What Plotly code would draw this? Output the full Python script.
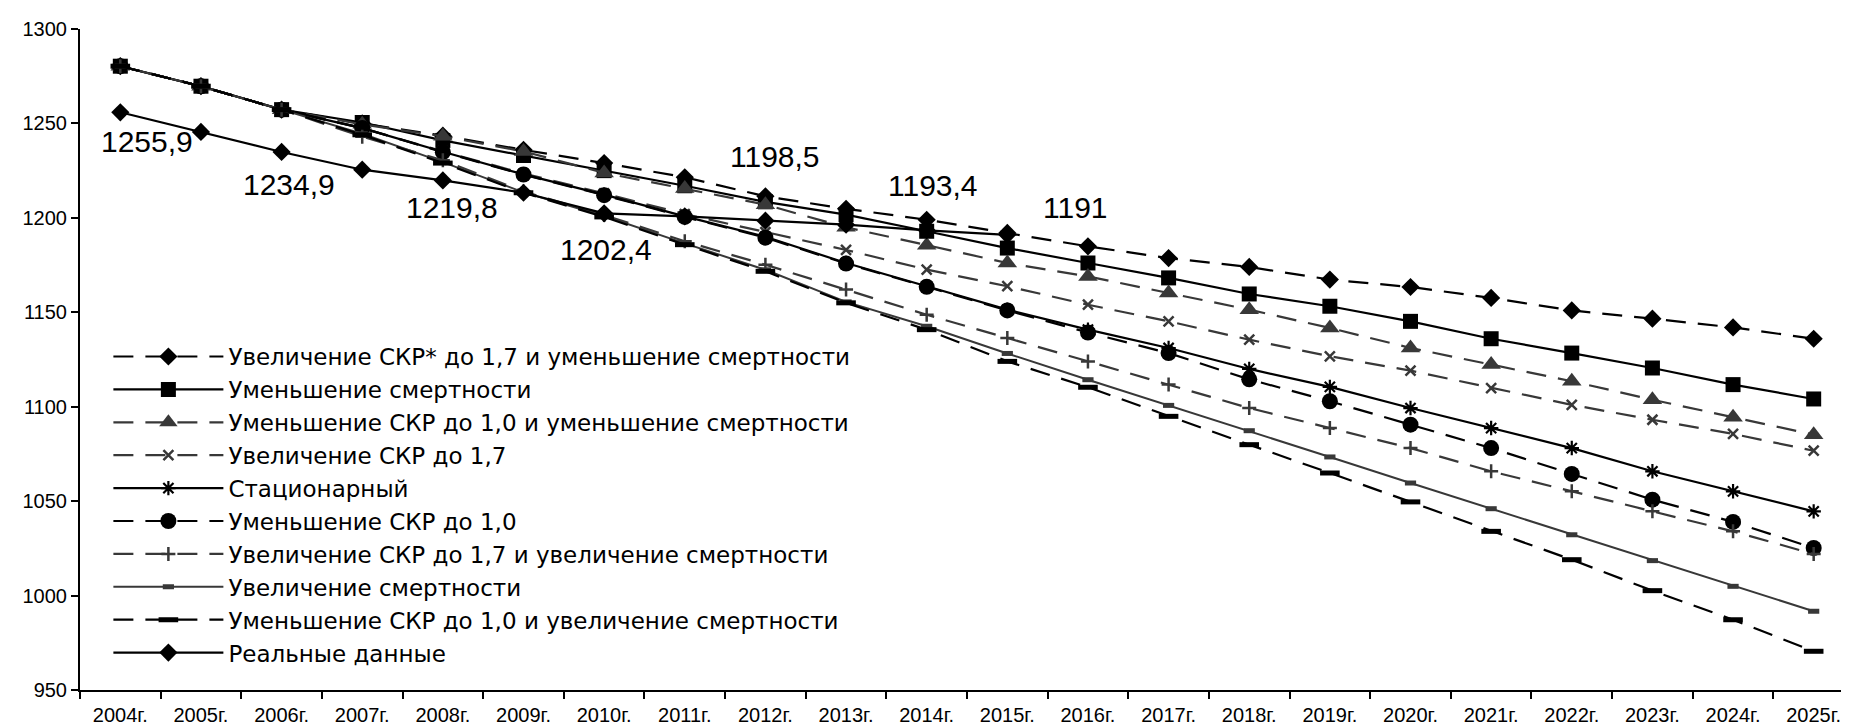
import plotly.graph_objects as go

years = ["2004г.", "2005г.", "2006г.", "2007г.", "2008г.", "2009г.", "2010г.", "2011г.",
         "2012г.", "2013г.", "2014г.", "2015г.", "2016г.", "2017г.", "2018г.", "2019г.",
         "2020г.", "2021г.", "2022г.", "2023г.", "2024г.", "2025г."]

s1 = [1280.3, 1269.7, 1257.3, 1250.0, 1243.5, 1236.0, 1229.0, 1221.5, 1211.4, 1204.8, 1199.0,
      1192.0, 1184.9, 1178.7, 1174.0, 1167.3, 1163.4, 1157.6, 1151.0, 1146.6, 1142.0, 1136.0]
s2 = [1280.3, 1269.7, 1257.3, 1250.5, 1241.0, 1233.0, 1225.0, 1217.0, 1208.5, 1201.7, 1192.9,
      1184.0, 1176.1, 1168.2, 1159.7, 1153.2, 1145.2, 1136.0, 1128.4, 1120.5, 1111.7, 1104.1]
s3 = [1280.3, 1269.7, 1257.3, 1249.5, 1243.2, 1235.2, 1223.8, 1215.5, 1207.0, 1195.0, 1185.5,
      1176.1, 1169.0, 1160.2, 1151.4, 1141.7, 1131.1, 1122.3, 1113.5, 1103.7, 1094.4, 1085.2]
s4 = [1280.3, 1269.7, 1257.3, 1247.5, 1235.2, 1223.5, 1213.0, 1202.0, 1192.5, 1183.0, 1172.6,
      1163.8, 1154.0, 1145.2, 1135.5, 1126.7, 1119.1, 1109.9, 1101.0, 1093.1, 1085.6, 1076.7]
s5 = [1280.3, 1269.7, 1257.3, 1247.5, 1235.0, 1223.0, 1212.3, 1200.8, 1190.0, 1176.1, 1163.8,
      1151.4, 1140.8, 1131.1, 1120.0, 1110.5, 1099.3, 1088.7, 1078.1, 1065.8, 1055.2, 1044.6]
s6 = [1280.3, 1269.7, 1257.3, 1247.6, 1234.8, 1222.9, 1212.0, 1200.5, 1189.5, 1175.8, 1163.5,
      1151.0, 1139.3, 1128.4, 1114.5, 1102.9, 1090.5, 1078.1, 1064.4, 1050.8, 1039.0, 1025.2]
s7 = [1280.3, 1269.7, 1257.3, 1243.0, 1230.5, 1214.0, 1201.5, 1187.6, 1175.2, 1162.0, 1148.7,
      1136.4, 1124.0, 1111.7, 1099.3, 1088.7, 1078.1, 1065.8, 1055.2, 1044.6, 1034.0, 1022.0]
s8 = [1280.3, 1269.7, 1257.3, 1244.5, 1229.5, 1213.5, 1201.0, 1186.5, 1172.5, 1155.5, 1142.6,
      1128.2, 1114.3, 1100.7, 1087.3, 1073.4, 1059.6, 1046.0, 1032.2, 1018.5, 1004.9, 991.7]
s9 = [1280.3, 1269.7, 1257.3, 1244.0, 1229.0, 1213.3, 1200.5, 1185.8, 1171.7, 1155.0, 1140.8,
      1124.0, 1110.3, 1094.9, 1079.9, 1064.9, 1049.6, 1034.0, 1019.0, 1002.6, 987.2, 970.5]
real_years = years[:12]
real = [1255.9, 1245.5, 1234.9, 1225.5, 1219.8, 1213.3, 1202.4, 1200.8, 1198.5, 1196.4, 1193.4, 1191.0]

names = [
    "Увеличение СКР* до 1,7 и уменьшение смертности",
    "Уменьшение смертности",
    "Уменьшение СКР до 1,0 и уменьшение смертности",
    "Увеличение СКР до 1,7",
    "Стационарный",
    "Уменьшение СКР до 1,0",
    "Увеличение СКР до 1,7 и увеличение смертности",
    "Увеличение смертности",
    "Уменьшение СКР до 1,0 и увеличение смертности",
    "Реальные данные",
]

label_years = ["2004г.", "2006г.", "2008г.", "2010г.", "2012г.", "2014г.", "2015г."]
label_values = [1255.9, 1234.9, 1219.8, 1202.4, 1198.5, 1193.4, 1191.0]
label_texts = ["1255,9", "1234,9", "1219,8", "1202,4", "1198,5", "1193,4", "1191"]

BLACK = "#000000"
GRAY = "#383838"
DASH = "20px,12px"

styles = [
    dict(color=BLACK, dash=DASH, width=2.2, symbol="diamond", msize=14, mline=0, mcolor=BLACK),
    dict(color=BLACK, dash="solid", width=2.2, symbol="square", msize=15, mline=0, mcolor=BLACK),
    dict(color=GRAY, dash=DASH, width=2.2, symbol="triangle-up", msize=17, mline=0, mcolor=GRAY),
    dict(color=GRAY, dash=DASH, width=2.2, symbol="x-thin-open", msize=10, mline=2.5, mcolor=GRAY),
    dict(color=BLACK, dash="solid", width=2.2, symbol="asterisk-open", msize=12, mline=2.2, mcolor=BLACK),
    dict(color=BLACK, dash=DASH, width=2.2, symbol="circle", msize=16, mline=0, mcolor=BLACK),
    dict(color=GRAY, dash=DASH, width=2.2, symbol="cross-thin-open", msize=10, mline=2.5, mcolor=GRAY),
    dict(color=GRAY, dash="solid", width=2.0, symbol="line-ew-open", msize=8, mline=5, mcolor=GRAY),
    dict(color=BLACK, dash=DASH, width=2.2, symbol="line-ew-open", msize=14, mline=5, mcolor=BLACK),
    dict(color=BLACK, dash="solid", width=2.2, symbol="diamond", msize=14, mline=0, mcolor=BLACK),
]

series = [s1, s2, s3, s4, s5, s6, s7, s8, s9, real]
xs = [years] * 9 + [real_years]

fig = go.Figure()
for name, xv, yv, st in zip(names, xs, series, styles):
    fig.add_trace(go.Scatter(
        x=xv, y=yv, name=name, mode="lines+markers",
        line=dict(color=st["color"], dash=st["dash"], width=st["width"]),
        marker=dict(symbol=st["symbol"], size=st["msize"], color=st["mcolor"],
                    line=dict(width=st["mline"], color=st["mcolor"])),
    ))

shifts = [(27, -29), (7, -33), (9, -27), (2, -36), (10, 64), (6, 45), (68, 27)]
for lx, lv, lt, (dx, dy) in zip(label_years, label_values, label_texts, shifts):
    fig.add_annotation(x=lx, y=lv, text=lt, showarrow=False, xshift=dx, yshift=dy,
                       font=dict(family="Liberation Sans, Arial, sans-serif", size=30, color="black"))

fig.update_layout(
    width=1849, height=728,
    margin=dict(l=72, r=3, t=21, b=46),
    paper_bgcolor="white", plot_bgcolor="white",
    showlegend=True,
    legend=dict(
        x=0.016, y=0.537, xanchor="left", yanchor="top",
        bgcolor="rgba(0,0,0,0)", borderwidth=0,
        font=dict(family="DejaVu Sans, Liberation Sans, sans-serif", size=23, color="black"),
        itemwidth=110, tracegroupgap=0,
    ),
    xaxis=dict(
        type="category", categoryorder="array", categoryarray=years,
        range=[-0.5, len(years) - 0.5],
        showline=True, linecolor="black", linewidth=2,
        ticks="outside", tickson="boundaries", ticklen=7, tickwidth=2, tickcolor="black",
        showgrid=False, zeroline=False,
        tickfont=dict(family="Liberation Sans, Arial, sans-serif", size=20, color="black"),
        ticklabelstandoff=6,
    ),
    yaxis=dict(
        range=[950, 1300], dtick=50, tick0=950,
        showline=True, linecolor="black", linewidth=2,
        ticks="outside", ticklen=7, tickwidth=2, tickcolor="black",
        showgrid=False, zeroline=False,
        tickfont=dict(family="Liberation Sans, Arial, sans-serif", size=20, color="black"),
    ),
)

fig.write_html("out.html")
